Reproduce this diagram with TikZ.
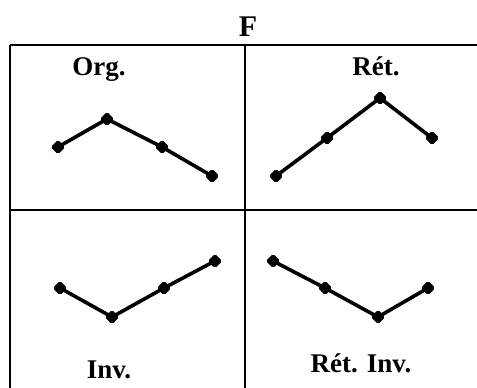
\documentclass[tikz,border=0pt]{standalone}
\usepackage{fontspec}
\setmainfont{Liberation Serif}
\usetikzlibrary{shapes.geometric}

\begin{document}
\begin{tikzpicture}[x=1pt, y=-1pt,
    dot/.style={diamond, draw, fill=black, line width=1.5pt, minimum size=13pt, inner sep=0pt, rounded corners=1.5pt},
    curve/.style={draw, line width=3.6pt},
    grid/.style={draw, line width=2.4pt},
    lbl/.style={anchor=base, font=\fontsize{27}{30}\selectfont\bfseries, inner sep=0pt}]

    \useasboundingbox (0,0) rectangle (477,388);

    % Title and table
    \node [lbl, font=\fontsize{30}{32}\selectfont\bfseries] (title) at (248,36) {F};
    \path [grid] (10,45) -- (477,45);
    \path [grid] (10,210) -- (477,210);
    \path [grid] (10,45) -- (10,388);
    \path [grid] (245,45) -- (245,388);

    % Org.
    \node [lbl] (org) at (99,75) {Org.};
    \node [dot] (o1) at (58,147) {};
    \node [dot] (o2) at (107,119) {};
    \node [dot] (o3) at (162,147) {};
    \node [dot] (o4) at (212,176) {};

    % Rét.
    \node [lbl] (ret) at (376,75) {Rét.};
    \node [dot] (r1) at (276,176) {};
    \node [dot] (r2) at (327,138) {};
    \node [dot] (r3) at (380,98) {};
    \node [dot] (r4) at (432,138) {};

    % Inv.
    \node [lbl] (inv) at (109,378) {Inv.};
    \node [dot] (i1) at (60,288) {};
    \node [dot] (i2) at (112,317) {};
    \node [dot] (i3) at (164,288) {};
    \node [dot] (i4) at (215,261) {};

    % Rét. Inv.
    \node [lbl] (retinv) at (361,372) {Rét. Inv.};
    \node [dot] (ri1) at (273,261) {};
    \node [dot] (ri2) at (325,288) {};
    \node [dot] (ri3) at (378,317) {};
    \node [dot] (ri4) at (428,288) {};

    % Curves
    \path [curve] (o1.center) -- (o2.center) -- (o3.center) -- (o4.center);
    \path [curve] (r1.center) -- (r2.center) -- (r3.center) -- (r4.center);
    \path [curve] (i1.center) -- (i2.center) -- (i3.center) -- (i4.center);
    \path [curve] (ri1.center) -- (ri2.center) -- (ri3.center) -- (ri4.center);

\end{tikzpicture}
\end{document}
